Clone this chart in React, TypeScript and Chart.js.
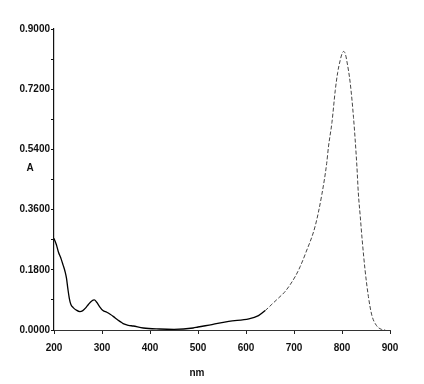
import React, { useEffect, useRef } from "react";
import { Chart, registerables } from "chart.js";

Chart.register(...registerables);

const wavelengths = [
  200, 205, 209, 215, 219, 223, 226, 229, 232, 235, 240, 246, 254, 260, 266, 272, 278, 284, 289, 295,
  302, 310, 317, 324, 331, 338, 344, 355, 365, 386, 420, 450, 490, 500, 529, 564, 606, 626, 640, 654,
  668, 682, 703, 713, 724, 744, 758, 768, 772, 779, 786, 791, 796, 800, 803.5, 807, 810, 817, 824, 831,
  834, 838, 842, 848, 855, 862, 872, 882, 890,
];
const absorbance = [
  0.274, 0.255, 0.234, 0.212, 0.194, 0.175, 0.155, 0.122, 0.094, 0.077, 0.067, 0.06, 0.055, 0.058, 0.066,
  0.077, 0.086, 0.09, 0.083, 0.07, 0.058, 0.053, 0.047, 0.04, 0.032, 0.025, 0.019, 0.014, 0.012, 0.006,
  0.003, 0.002, 0.006, 0.009, 0.016, 0.026, 0.033, 0.043, 0.058, 0.077, 0.096, 0.116, 0.161, 0.19, 0.229,
  0.31, 0.405, 0.497, 0.55, 0.62, 0.717, 0.77, 0.805, 0.826, 0.833, 0.825, 0.805, 0.74, 0.635, 0.49, 0.41,
  0.34, 0.27, 0.18, 0.1, 0.045, 0.013, 0.002, 0.0,
];
const yTickValues = [0, 0.09, 0.18, 0.27, 0.36, 0.45, 0.54, 0.63, 0.72, 0.81, 0.9];
const yLabelValues = [0, 0.18, 0.36, 0.54, 0.72, 0.9];
const xTickValues = [200, 300, 400, 500, 600, 700, 800, 900];
const xTitle = "nm";
const yTitle = "A";

const FONT = '"Liberation Sans", Arial, sans-serif';

export default function App() {
  const ref = useRef<HTMLCanvasElement | null>(null);

  useEffect(() => {
    if (!ref.current) return;
    const titlePlugin = {
      id: "axisTitles",
      afterDraw(chart: any) {
        const { ctx, chartArea } = chart;
        ctx.save();
        ctx.font = `bold 10px ${FONT}`;
        ctx.fillStyle = "#111";
        ctx.textAlign = "center";
        ctx.textBaseline = "middle";
        ctx.fillText(yTitle, chartArea.left - 24, chartArea.top + 139);
        ctx.fillText(xTitle, chartArea.left + 143, chartArea.bottom + 43);
        ctx.restore();
      },
    };
    const chart = new Chart(ref.current, {
      type: "line",
      data: {
        datasets: [
          {
            data: wavelengths.map((w, i) => ({ x: w, y: absorbance[i] })),
            borderColor: "#000",
            borderWidth: 1.3,
            pointRadius: 0,
            cubicInterpolationMode: "monotone",
            fill: false,
            segment: {
              borderColor: (c: any) => (c.p0.parsed.x >= 640 ? "#444" : "#000"),
              borderWidth: (c: any) => (c.p0.parsed.x >= 640 ? 1 : 1.3),
              borderDash: (c: any) => (c.p0.parsed.x >= 640 ? [4, 2] : undefined),
            },
          },
        ],
      },
      options: {
        responsive: false,
        animation: false,
        layout: { padding: { top: 29, right: 34, left: 0, bottom: 0 } },
        plugins: { legend: { display: false }, tooltip: { enabled: false } },
        scales: {
          x: {
            type: "linear",
            min: 200,
            max: 900,
            afterBuildTicks: (s: any) => {
              s.ticks = xTickValues.map((v) => ({ value: v }));
            },
            afterFit: (s: any) => {
              s.height = 54;
            },
            grid: { display: true, drawOnChartArea: false, drawTicks: true, tickLength: 4, color: "#222" },
            border: { display: true, color: "#333", width: 1, dash: [6, 2] },
            ticks: {
              color: "#111",
              padding: 8,
              maxRotation: 0,
              autoSkip: false,
              font: { family: FONT, size: 10, weight: "bold" },
              callback: (v: any) => String(v),
            },
          },
          y: {
            type: "linear",
            min: 0,
            max: 0.9,
            afterBuildTicks: (s: any) => {
              s.ticks = yTickValues.map((v) => ({ value: v }));
            },
            afterFit: (s: any) => {
              s.width = 54;
            },
            grid: { display: true, drawOnChartArea: false, drawTicks: true, tickLength: 3, color: "#111" },
            border: { display: true, color: "#111", width: 1.2 },
            ticks: {
              color: "#111",
              padding: 1,
              autoSkip: false,
              font: { family: FONT, size: 10, weight: "bold" },
              callback: (v: any) =>
                yLabelValues.some((l) => Math.abs(l - v) < 1e-6) ? Number(v).toFixed(4) : "",
            },
          },
        },
      },
      plugins: [titlePlugin],
    } as any);
    return () => chart.destroy();
  }, []);

  return (
    <div style={{ position: "fixed", left: 0, top: 0, width: 424, height: 384, background: "#fff" }}>
      <canvas ref={ref} width={424} height={384} />
    </div>
  );
}
